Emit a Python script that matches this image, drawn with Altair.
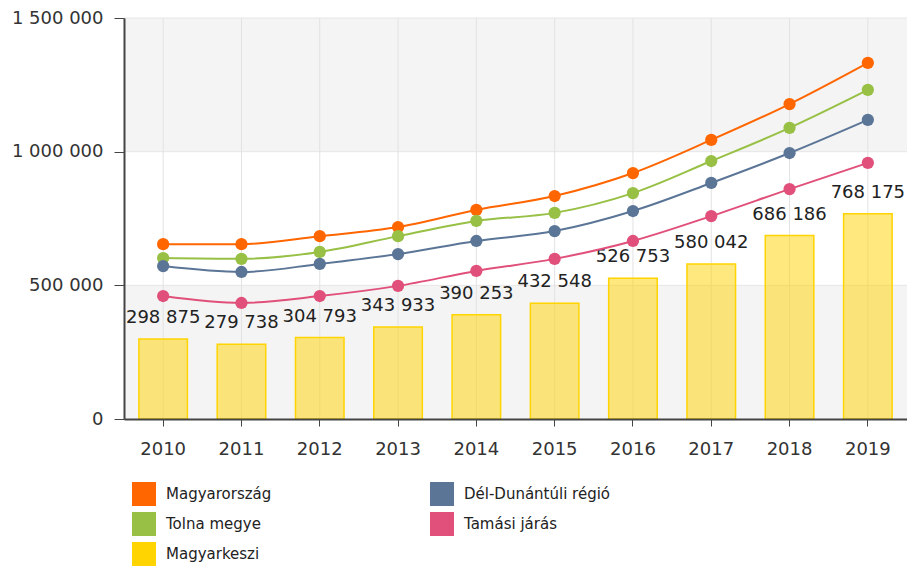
import altair as alt
import pandas as pd

years = ["2010", "2011", "2012", "2013", "2014", "2015", "2016", "2017", "2018", "2019"]
magyarkeszi = [298875, 279738, 304793, 343933, 390253, 432548, 526753, 580042, 686186, 768175]
magyarorszag = [654000, 654000, 684000, 718000, 782000, 834000, 920000, 1044000, 1178000, 1332000]
tolna = [602000, 599000, 625000, 684000, 741000, 771000, 845000, 965000, 1089000, 1231000]
del_dunantul = [572000, 550000, 580000, 617000, 666000, 703000, 778000, 883000, 995000, 1119000]
tamasi = [460000, 434000, 460000, 498000, 554000, 599000, 666000, 759000, 860000, 958000]

# legend order (column-major, 2 columns)
series_names = ["Magyarország", "Tolna megye", "Magyarkeszi", "Dél-Dunántúli régió", "Tamási járás"]
series_colors = ["#ff6600", "#97c045", "#ffd400", "#5b7597", "#e0507a"]

FONT = "DejaVu Sans"
W = 783

bar_df = pd.DataFrame({
    "year": years,
    "value": magyarkeszi,
    "label": [f"{v:,}".replace(",", " ") for v in magyarkeszi],
})

rows = []
for name, vals in [("Magyarország", magyarorszag), ("Tolna megye", tolna),
                   ("Dél-Dunántúli régió", del_dunantul), ("Tamási járás", tamasi)]:
    for y, v in zip(years, vals):
        rows.append({"year": y, "value": v, "series": name})
line_df = pd.DataFrame(rows)

bands_df = pd.DataFrame({"lo": [0, 1000000], "hi": [500000, 1500000]})
hgrid_df = pd.DataFrame({"v": [500000, 1000000, 1500000]})
grid_df = pd.DataFrame({"year": years})

x_scale = alt.Scale(domain=years, paddingInner=0.38, paddingOuter=0.19)
x_axis = alt.Axis(labelAngle=0, grid=False, zindex=1,
                  domainColor="#444", domainWidth=2, tickColor="#444",
                  tickSize=7, labelPadding=14)
y_scale = alt.Scale(domain=[0, 1500000], nice=False)
y_axis = alt.Axis(values=[0, 500000, 1000000, 1500000], grid=False, zindex=1,
                  domainColor="#444", domainWidth=2, tickColor="#444", tickSize=10,
                  labelPadding=11,
                  labelExpr="replace(format(datum.value, ','), regexp(',', 'g'), ' ')")

bands = alt.Chart(bands_df).mark_rect(color="#f4f4f4").encode(
    x=alt.value(0), x2=alt.value(W),
    y=alt.Y("lo:Q", scale=y_scale, axis=y_axis, title=None),
    y2="hi:Q",
)

hgrid = alt.Chart(hgrid_df).mark_rule(color="#e6e6e6", strokeWidth=1).encode(
    y=alt.Y("v:Q", scale=y_scale),
)

grid = alt.Chart(grid_df).mark_rule(color="#e2e2e2", strokeWidth=1).encode(
    x=alt.X("year:N", sort=years, scale=x_scale, axis=x_axis, title=None),
)

bars = alt.Chart(bar_df).mark_bar(color="#ffd400", fillOpacity=0.5, stroke="#ffd400",
                                  strokeWidth=1.5).encode(
    x=alt.X("year:N", sort=years),
    y=alt.Y("value:Q", scale=y_scale),
)

bar_text = alt.Chart(bar_df).mark_text(baseline="bottom", dy=-12, fontSize=18,
                                       font=FONT, color="#222").encode(
    x=alt.X("year:N", sort=years),
    y=alt.Y("value:Q", scale=y_scale),
    text="label:N",
)

color_scale = alt.Scale(domain=series_names, range=series_colors)
legend = alt.Legend(orient="none", legendX=8, legendY=464,
                    columns=2, columnPadding=158, rowPadding=6,
                    symbolType="square", symbolSize=576,
                    symbolStrokeWidth=0, symbolOpacity=1,
                    labelFont=FONT, labelFontSize=15,
                    labelColor="#222", labelOffset=10,
                    padding=0, labelLimit=300)

lines = alt.Chart(line_df).mark_line(interpolate="monotone", strokeWidth=2).encode(
    x=alt.X("year:N", sort=years),
    y=alt.Y("value:Q", scale=y_scale),
    color=alt.Color("series:N", scale=color_scale, title=None, legend=legend),
    detail="series:N",
)

points = alt.Chart(line_df).mark_circle(size=150, opacity=1).encode(
    x=alt.X("year:N", sort=years),
    y=alt.Y("value:Q", scale=y_scale),
    color=alt.Color("series:N", scale=color_scale, title=None, legend=legend),
)

chart = alt.layer(bands, hgrid, grid, bars, bar_text, lines, points).properties(
    width=W, height=401,
    autosize=alt.AutoSizeParams(type="none"),
    padding={"left": 116, "top": 10, "right": 0, "bottom": 148},
).configure_axis(
    labelFont=FONT, labelFontSize=18, labelColor="#333",
).configure_view(stroke=None)

chart.save("out.html", embed_options={"renderer": "svg", "actions": False})
